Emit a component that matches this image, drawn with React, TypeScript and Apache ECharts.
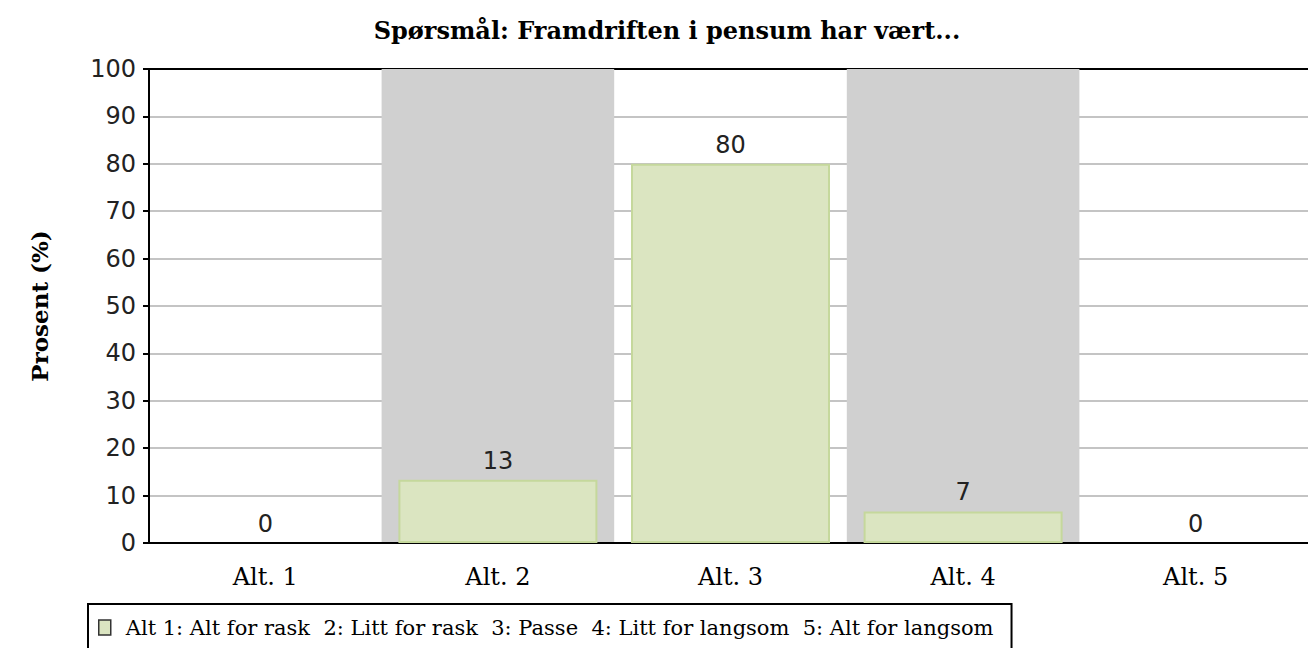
import React, { useEffect, useRef } from "react";
import * as echarts from "echarts";

const titleText = "Spørsmål: Framdriften i pensum har vært...";
const yAxisName = "Prosent (%)";
const categories = ["Alt. 1", "Alt. 2", "Alt. 3", "Alt. 4", "Alt. 5"];
const values = [0, 13.33, 80, 6.67, 0];
const seriesName =
  "Alt 1: Alt for rask  2: Litt for rask  3: Passe  4: Litt for langsom  5: Alt for langsom";
const yMin = 0;
const yMax = 100;
const yStep = 10;

export default function App() {
  const ref = useRef<HTMLDivElement>(null);
  useEffect(() => {
    if (!ref.current) return;
    const chart = echarts.init(ref.current, null, { renderer: "svg" });
    const serif = "DejaVu Serif";
    const sans = "DejaVu Sans";
    const barData = values.map((v) =>
      v === 0 ? { value: v, itemStyle: { borderWidth: 0 } } : v
    );
    chart.setOption({
      animation: false,
      backgroundColor: "#ffffff",
      title: {
        text: titleText,
        left: 662,
        textAlign: "center",
        top: 13,
        textStyle: { fontFamily: serif, fontWeight: "bold", fontSize: 24, color: "#000" },
      },
      legend: {
        data: [seriesName],
        left: 88,
        top: 604,
        padding: [13, 18, 20, 10],
        borderColor: "#000",
        borderWidth: 2,
        itemWidth: 12,
        itemHeight: 15,
        itemGap: 8,
        icon: "rect",
        itemStyle: { borderColor: "#333", borderWidth: 1.5 },
        textStyle: { fontFamily: serif, fontSize: 21, color: "#000", padding: [0, 0, 0, 10] },
      },
      grid: {
        left: 149,
        top: 69,
        right: 0,
        bottom: 105,
        show: true,
        borderColor: "#000",
        borderWidth: 2,
        backgroundColor: "transparent",
      },
      xAxis: {
        type: "category",
        data: categories,
        axisLine: { lineStyle: { color: "#000", width: 2 } },
        axisTick: { alignWithLabel: true, length: 6, lineStyle: { color: "#000", width: 2 } },
        axisLabel: { fontFamily: serif, fontSize: 24, color: "#000", margin: 22 },
        splitArea: {
          show: true,
          areaStyle: { color: ["rgba(255,255,255,0)", "#d0d0d0"] },
        },
      },
      yAxis: {
        type: "value",
        min: yMin,
        max: yMax,
        interval: yStep,
        name: yAxisName,
        nameLocation: "middle",
        nameGap: 98,
        nameTextStyle: { fontFamily: serif, fontWeight: "bold", fontSize: 23, color: "#000" },
        axisLine: { show: true, lineStyle: { color: "#000", width: 2 } },
        axisTick: { show: true, length: 6, lineStyle: { color: "#000", width: 2 } },
        axisLabel: { fontFamily: sans, fontSize: 24, color: "#222", margin: 13 },
        splitLine: { showMaxLine: false, lineStyle: { color: "#c4c4c4", width: 2 } },
      },
      series: [
        {
          name: seriesName,
          type: "bar",
          data: barData,
          barWidth: 199,
          itemStyle: { color: "#dbe5c1", borderColor: "#c5d89c", borderWidth: 2 },
          label: {
            show: true,
            position: "top",
            distance: 7,
            fontFamily: sans,
            fontSize: 24,
            color: "#222",
            formatter: (p: any) => String(Math.round(p.value)),
          },
        },
      ],
    });
    return () => chart.dispose();
  }, []);
  return (
    <div style={{ position: "absolute", left: 0, top: 0, width: 1308, height: 648, overflow: "hidden" }}>
      <div ref={ref} style={{ width: 1312, height: 648 }} />
    </div>
  );
}
